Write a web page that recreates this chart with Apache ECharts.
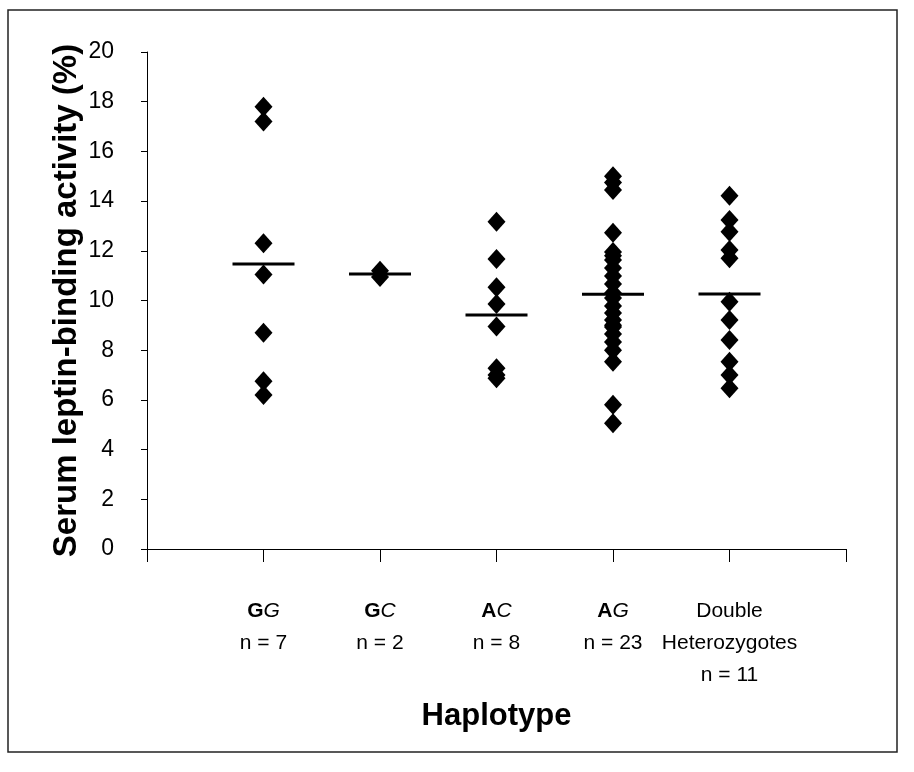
<!DOCTYPE html>
<html>
<head>
<meta charset="utf-8">
<script src="https://cdn.jsdelivr.net/npm/echarts@6/dist/echarts.min.js"></script>
<style>
  html, body { margin: 0; padding: 0; background: #fff; }
  #chart { width: 914px; height: 772px; }
</style>
</head>
<body>
<div id="chart"></div>
<script>
// haplotype groups (x position 1..5)
const groups = ['GG', 'GC', 'AC', 'AG', 'DH'];
const labelsRich = [
  '{b|G}{i|G}\nn = 7',
  '{b|G}{i|C}\nn = 2',
  '{b|A}{i|C}\nn = 8',
  '{b|A}{i|G}\nn = 23',
  'Double\nHeterozygotes\nn = 11'
];

// serum leptin-binding activity (%) per group
const ggValues = [17.8, 17.2, 12.3, 11.05, 8.7, 6.75, 6.2];
const gcValues = [11.2, 10.95];
const acValues = [13.17, 11.67, 10.53, 9.86, 8.95, 7.27, 6.87, 7.0];
const agValues = [15.0, 14.75, 14.45, 12.73, 11.95, 11.63, 11.31, 10.99, 10.66,
  10.3, 9.78, 9.5, 9.22, 8.93, 8.65, 8.33, 7.54, 5.8, 5.06, 11.8, 9.0, 8.0, 10.1];
const dhValues = [14.22, 13.24, 12.77, 12.03, 11.7, 9.95, 9.22, 8.41, 7.54, 7.0, 6.47];

// group means (horizontal bars)
const meanValues = [11.47, 11.07, 9.42, 10.25, 10.26];

const yTicks = { min: 0, max: 20, interval: 2 };

const allValues = [ggValues, gcValues, acValues, agValues, dhValues];
const points = [];
allValues.forEach((vals, i) => {
  vals.forEach(v => points.push([i + 1, v]));
});
const meanPoints = meanValues.map((v, i) => [i + 1, v]);

const font = 'Liberation Sans, Arial, sans-serif';

const chart = echarts.init(document.getElementById('chart'));
chart.setOption({
  backgroundColor: '#fff',
  animation: false,
  grid: { left: 147, right: 68, top: 52, bottom: 223 },
  graphic: [{
    type: 'rect',
    shape: { x: 8, y: 10, width: 889, height: 742 },
    style: { fill: 'none', stroke: '#222', lineWidth: 1.5 },
    silent: true
  }],
  xAxis: {
    type: 'value',
    min: 0,
    max: 6,
    interval: 1,
    name: 'Haplotype',
    nameLocation: 'middle',
    nameGap: 152,
    nameTextStyle: { color: '#000', fontSize: 31, fontWeight: 'bold', fontFamily: font },
    splitLine: { show: false },
    axisLine: { lineStyle: { color: '#000', width: 1 } },
    axisTick: { show: true, inside: false, length: 13, lineStyle: { color: '#000' } },
    axisLabel: {
      margin: 46,
      color: '#000',
      fontSize: 21,
      lineHeight: 32,
      fontFamily: font,
      formatter: v => (v >= 1 && v <= 5) ? labelsRich[v - 1] : '',
      rich: {
        b: { fontWeight: 'bold', fontSize: 21, fontFamily: font, color: '#000', lineHeight: 32 },
        i: { fontStyle: 'italic', fontSize: 21, fontFamily: font, color: '#000', lineHeight: 32 }
      }
    }
  },
  yAxis: {
    type: 'value',
    min: yTicks.min,
    max: yTicks.max,
    interval: yTicks.interval,
    name: 'Serum leptin-binding activity (%)',
    nameLocation: 'middle',
    nameGap: 64,
    nameMoveOverlap: false,
    nameTextStyle: { color: '#000', fontSize: 33, fontWeight: 'bold', fontFamily: font },
    splitLine: { show: false },
    axisLine: { show: true, lineStyle: { color: '#000', width: 1 } },
    axisTick: { show: true, inside: false, length: 6, lineStyle: { color: '#000' } },
    axisLabel: { margin: 33, color: '#000', fontSize: 23, fontFamily: font }
  },
  series: [
    {
      name: 'values',
      type: 'scatter',
      symbol: 'diamond',
      symbolSize: [18, 20],
      itemStyle: { color: '#000', opacity: 1 },
      data: points
    },
    {
      name: 'mean',
      type: 'scatter',
      symbol: 'rect',
      symbolSize: [62, 3],
      itemStyle: { color: '#000', opacity: 1 },
      z: 3,
      data: meanPoints
    }
  ]
});
</script>
</body>
</html>
